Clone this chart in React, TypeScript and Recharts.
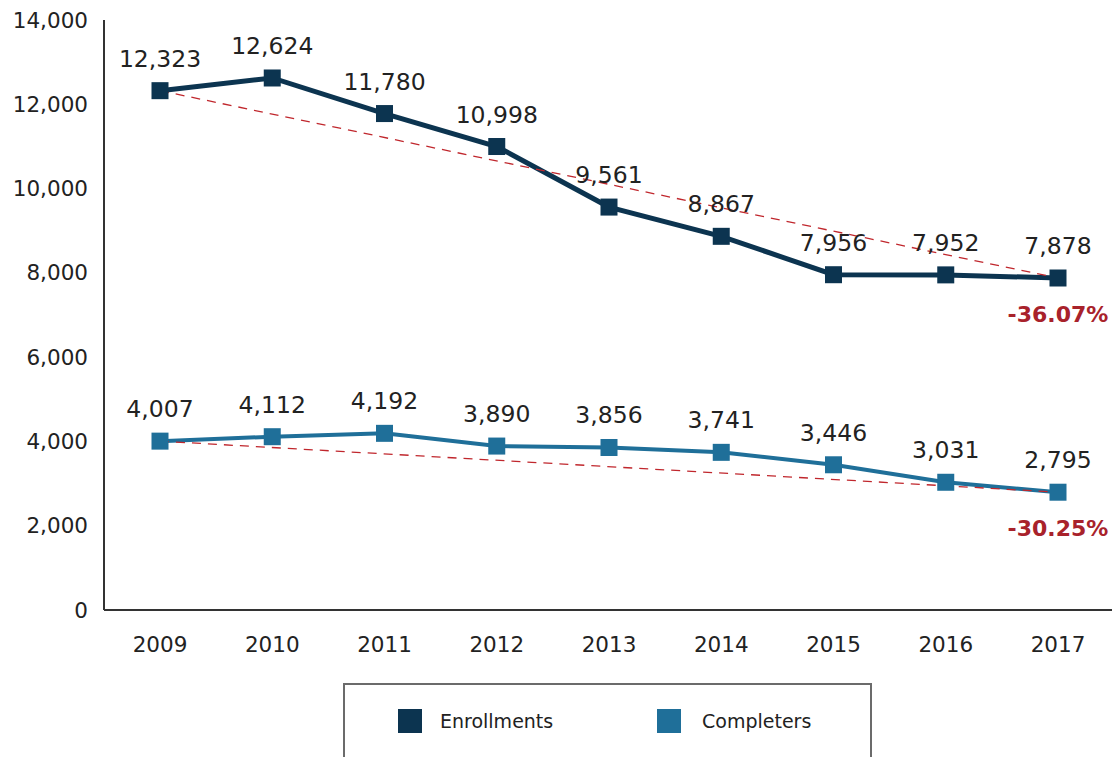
import { LineChart, Line, XAxis, YAxis, LabelList } from "recharts";

const years = ["2009", "2010", "2011", "2012", "2013", "2014", "2015", "2016", "2017"];
const enrollments = [12323, 12624, 11780, 10998, 9561, 8867, 7956, 7952, 7878];
const completers = [4007, 4112, 4192, 3890, 3856, 3741, 3446, 3031, 2795];
// trend lines only join first and last year
const enrollTrend = [12323, null, null, null, null, null, null, null, 7878];
const completerTrend = [4007, null, null, null, null, null, null, null, 2795];
const changeLabels = ["-36.07%", "-30.25%"];
const yTicks = [0, 2000, 4000, 6000, 8000, 10000, 12000, 14000];

const ENROLL = "#0c3450";
const COMPLETE = "#1f6f99";
const RED = "#a8222b";
const FONT = "'DejaVu Sans', sans-serif";

const data = years.map((year, i) => ({
  year,
  enrollments: enrollments[i],
  completers: completers[i],
  enrollTrend: enrollTrend[i],
  completerTrend: completerTrend[i],
}));

function squareDot(color: string, size: number) {
  return (props: any) => {
    const { cx, cy, index } = props;
    if (cx == null || cy == null) return <g key={index} />;
    return (
      <rect
        key={index}
        x={cx - size / 2}
        y={cy - size / 2}
        width={size}
        height={size}
        fill={color}
      />
    );
  };
}

function changeLabel(text: string) {
  return (props: any) => {
    const { x, y, index } = props;
    if (index !== years.length - 1 || x == null || y == null) return null;
    return (
      <text
        x={x}
        y={y + 44}
        textAnchor="middle"
        fill={RED}
        fontSize={22}
        fontWeight="bold"
        fontFamily={FONT}
      >
        {text}
      </text>
    );
  };
}

const valueLabel = {
  position: "top" as const,
  offset: 24,
  fill: "#222",
  fontSize: 23.5,
  fontFamily: FONT,
  formatter: (v: any) => Number(v).toLocaleString("en-US"),
};

export default function App() {
  return (
    <div
      style={{
        position: "absolute",
        left: 0,
        top: 0,
        width: 1112,
        height: 757,
        overflow: "hidden",
        background: "#fff",
        fontFamily: FONT,
      }}
    >
      <LineChart
        width={1114}
        height={757}
        data={data}
        margin={{ top: 20, right: 0, left: 0, bottom: 107 }}
      >
        <XAxis
          dataKey="year"
          axisLine={{ stroke: "#333", strokeWidth: 2 }}
          tickLine={false}
          tickMargin={21}
          height={40}
          interval={0}
          padding={{ left: 56, right: 56 }}
          tick={{ fontSize: 21.5, fill: "#222", fontFamily: FONT }}
        />
        <YAxis
          width={104}
          domain={[0, 14000]}
          ticks={yTicks}
          axisLine={{ stroke: "#333", strokeWidth: 2 }}
          tickLine={false}
          tickSize={8}
          tickMargin={8}
          tickFormatter={(v) => Number(v).toLocaleString("en-US")}
          tick={{ fontSize: 21.5, fill: "#222", fontFamily: FONT }}
        />
        <Line
          dataKey="enrollments"
          stroke={ENROLL}
          strokeWidth={5}
          dot={squareDot(ENROLL, 17)}
          activeDot={false}
          isAnimationActive={false}
        >
          <LabelList dataKey="enrollments" {...valueLabel} />
        </Line>
        <Line
          dataKey="completers"
          stroke={COMPLETE}
          strokeWidth={4}
          dot={squareDot(COMPLETE, 17)}
          activeDot={false}
          isAnimationActive={false}
        >
          <LabelList dataKey="completers" {...valueLabel} />
        </Line>
        <Line
          dataKey="enrollTrend"
          stroke="#c0272d"
          strokeWidth={1.3}
          strokeDasharray="9 7"
          dot={false}
          activeDot={false}
          connectNulls
          isAnimationActive={false}
        >
          <LabelList dataKey="enrollTrend" content={changeLabel(changeLabels[0])} />
        </Line>
        <Line
          dataKey="completerTrend"
          stroke="#c0272d"
          strokeWidth={1.3}
          strokeDasharray="9 7"
          dot={false}
          activeDot={false}
          connectNulls
          isAnimationActive={false}
        >
          <LabelList dataKey="completerTrend" content={changeLabel(changeLabels[1])} />
        </Line>
      </LineChart>

      <div
        style={{
          position: "absolute",
          left: 343,
          top: 683,
          width: 525,
          height: 100,
          border: "2px solid #6b6b6b",
          background: "#fff",
        }}
      >
        <div
          style={{
            position: "absolute",
            left: 53,
            top: 24,
            width: 24,
            height: 24,
            background: ENROLL,
          }}
        />
        <div
          style={{
            position: "absolute",
            left: 95,
            top: 22,
            fontSize: 19,
            color: "#222",
            lineHeight: "28px",
          }}
        >
          Enrollments
        </div>
        <div
          style={{
            position: "absolute",
            left: 312,
            top: 24,
            width: 24,
            height: 24,
            background: COMPLETE,
          }}
        />
        <div
          style={{
            position: "absolute",
            left: 357,
            top: 22,
            fontSize: 19,
            color: "#222",
            lineHeight: "28px",
          }}
        >
          Completers
        </div>
      </div>
    </div>
  );
}
